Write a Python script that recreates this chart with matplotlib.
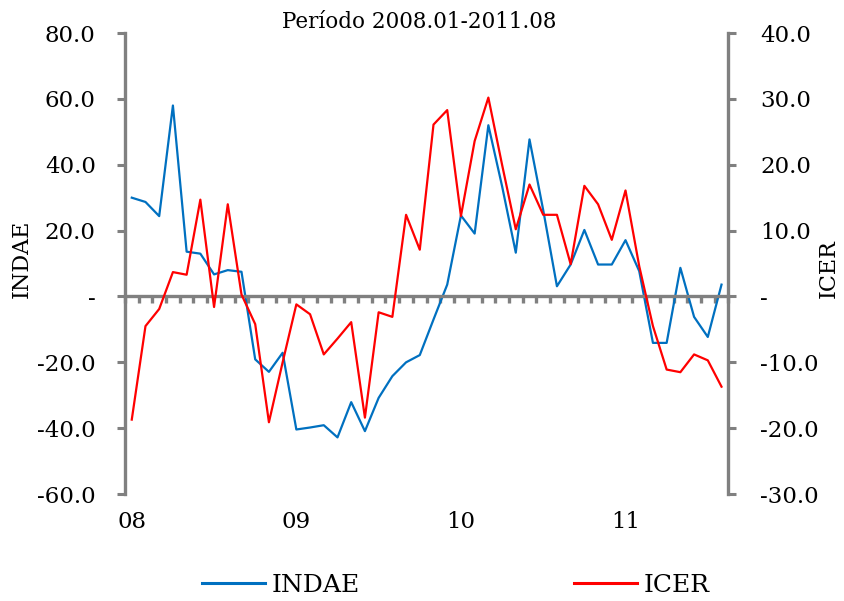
"""INDAE vs ICER, monthly, 2008.01-2011.08 (two y axes)."""

import matplotlib
matplotlib.use("Agg")
import matplotlib.pyplot as plt
import numpy as np
from matplotlib.lines import Line2D
from matplotlib.ticker import FuncFormatter

# Data
indae = [30.0, 28.7, 24.4, 58.0, 13.6, 13.0, 6.7, 8.0, 7.5, -19.1, -22.9, -17.1,
         -40.4, -39.8, -39.1, -42.8, -32.1, -40.9, -30.8, -24.2, -20.0, -17.8, -7.0, 3.6,
         24.6, 19.1, 52.0, 33.5, 13.3, 47.7, 26.2, 3.1, 9.7, 20.2, 9.7, 9.7,
         17.1, 7.7, -14.1, -14.1, 8.7, -6.2, -12.3, 3.6]
icer = [-18.7, -4.5, -1.9, 3.7, 3.3, 14.7, -1.6, 14.0, 0.3, -4.2, -19.1, -10.0,
        -1.2, -2.7, -8.8, -6.4, -3.9, -18.4, -2.4, -3.1, 12.4, 7.1, 26.1, 28.3,
        12.2, 23.6, 30.2, 20.0, 10.2, 17.0, 12.4, 12.4, 4.9, 16.8, 14.0, 8.6,
        16.1, 4.6, -4.5, -11.1, -11.5, -8.8, -9.7, -13.7]
year_labels = ["08", "09", "10", "11"]
year_pos = [0, 12, 24, 36]

BLUE = "#0070C0"
RED = "#FF0000"
GRAY = "#808080"

plt.rcParams["font.family"] = ["DejaVu Serif"]

fig = plt.figure(figsize=(8.44, 6.01), dpi=100)
ax = fig.add_axes([0.148, 0.178, 0.715, 0.767])
ax2 = ax.twinx()

x = np.arange(len(indae))
ax.plot(x, indae, color=BLUE, lw=1.6)
ax2.plot(x, icer, color=RED, lw=1.6)

ax.set_xlim(-0.5, len(indae) - 0.5)
ax.set_ylim(-60, 80)
ax2.set_ylim(-30, 40)
ax.set_yticks(np.arange(-60, 81, 20))
ax2.set_yticks(np.arange(-30, 41, 10))

fmt = FuncFormatter(lambda v, p: "-" if abs(v) < 1e-9 else f"{v:.1f}")
ax.yaxis.set_major_formatter(fmt)
ax2.yaxis.set_major_formatter(fmt)

# spines
for a in (ax, ax2):
    a.spines["top"].set_visible(False)
ax.spines["right"].set_visible(False)
ax2.spines["left"].set_visible(False)
ax2.spines["bottom"].set_visible(False)
ax.spines["left"].set_color(GRAY)
ax.spines["left"].set_linewidth(2.4)
ax2.spines["right"].set_color(GRAY)
ax2.spines["right"].set_linewidth(2.4)

# zero line acts as the x axis, ticks at month boundaries
ax.spines["bottom"].set_position(("data", 0))
ax.spines["bottom"].set_color(GRAY)
ax.spines["bottom"].set_linewidth(2.4)
ax.set_xticks(np.arange(-0.5, len(indae), 1.0))
ax.tick_params(axis="x", labelbottom=False, length=5, width=2.4, color=GRAY,
               direction="out")

ax.tick_params(axis="y", length=6, width=2.2, color=GRAY, labelsize=16.5, pad=15)
ax2.tick_params(axis="y", length=6, width=2.2, color=GRAY, labelsize=16.5, pad=17)

# year labels at the bottom
sec = ax.secondary_xaxis(0.0)
sec.set_xticks(year_pos, year_labels)
sec.spines["bottom"].set_visible(False)
sec.tick_params(length=0, labelsize=16.5, pad=12)

ax.set_ylabel("INDAE", fontsize=16)
ax2.set_ylabel("ICER", fontsize=16)
ax.yaxis.set_label_coords(-0.153, 0.51)
ax2.yaxis.set_label_coords(1.148, 0.49)

fig.text(0.497, 0.963, "Período 2008.01-2011.08", ha="center", va="center",
         fontsize=15.5)

handles = [Line2D([], [], color=BLUE, lw=2.2), Line2D([], [], color=RED, lw=2.2)]
fig.legend(handles, ["INDAE", "ICER"], loc="center", ncol=2, frameon=False,
           fontsize=18, handlelength=2.5, handletextpad=0.25, columnspacing=8.6,
           bbox_to_anchor=(0.54, 0.026))

fig.savefig("out.png", dpi=100)
